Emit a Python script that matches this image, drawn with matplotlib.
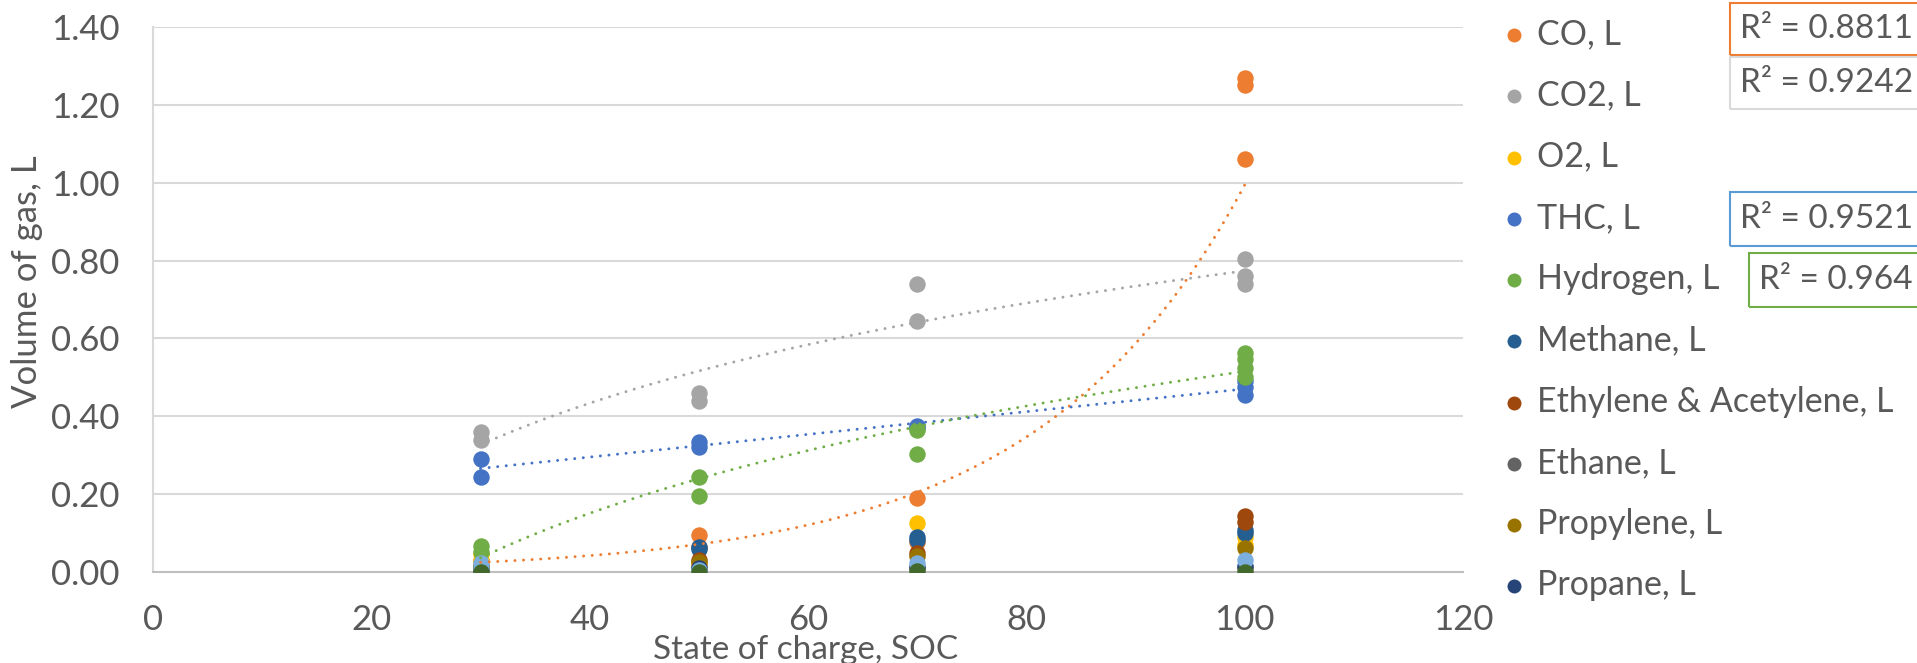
import matplotlib; matplotlib.use('Agg')
import matplotlib.pyplot as plt
from matplotlib.patches import Rectangle
import numpy as np

plt.rcParams['font.family'] = ['Lato', 'DejaVu Sans']
TXT = '#595959'

# gas volumes per state of charge (SOC %)
co_x = [30, 30, 50, 50, 70, 70, 100, 100, 100]
co_y = [0.029, 0.029, 0.095, 0.065, 0.19, 0.078, 1.27, 1.25, 1.06]
co2_x = [30, 30, 50, 50, 70, 70, 100, 100, 100]
co2_y = [0.36, 0.34, 0.46, 0.44, 0.74, 0.645, 0.805, 0.76, 0.74]
o2_x = [30, 30, 50, 70, 100, 100]
o2_y = [0.045, 0.03, 0.02, 0.125, 0.09, 0.07]
thc_x = [30, 30, 50, 50, 70, 70, 100, 100, 100]
thc_y = [0.29, 0.245, 0.335, 0.322, 0.375, 0.37, 0.49, 0.475, 0.455]
h2_x = [30, 30, 50, 50, 70, 70, 100, 100, 100, 100]
h2_y = [0.068, 0.052, 0.243, 0.195, 0.365, 0.302, 0.562, 0.548, 0.525, 0.50]
ch4_x = [30, 50, 50, 70, 70, 100, 100]
ch4_y = [0.015, 0.065, 0.058, 0.09, 0.082, 0.108, 0.10]
c2h4_x = [30, 50, 70, 100, 100]
c2h4_y = [0.01, 0.032, 0.048, 0.145, 0.128]
c2h6_x = [30, 50, 70, 100]
c2h6_y = [0.005, 0.012, 0.01, 0.01]
c3h6_x = [30, 50, 70, 100]
c3h6_y = [0.012, 0.025, 0.04, 0.062]
c3h8_x = [30, 50, 70, 100]
c3h8_y = [0.008, 0.01, 0.012, 0.015]
s11_x = [30, 30, 50, 70, 100]
s11_y = [0.022, 0.01, 0.005, 0.022, 0.032]
s12_x = [30, 50, 70, 100]
s12_y = [0.0, 0.0, 0.002, 0.0]

series = [
    ('CO, L', co_x, co_y, '#ED7D31'),
    ('CO2, L', co2_x, co2_y, '#A5A5A5'),
    ('O2, L', o2_x, o2_y, '#FFC000'),
    ('THC, L', thc_x, thc_y, '#4472C4'),
    ('Hydrogen, L', h2_x, h2_y, '#70AD47'),
    ('Methane, L', ch4_x, ch4_y, '#255E91'),
    ('Ethylene & Acetylene, L', c2h4_x, c2h4_y, '#9E480E'),
    ('Ethane, L', c2h6_x, c2h6_y, '#636363'),
    ('Propylene, L', c3h6_x, c3h6_y, '#997300'),
    ('Propane, L', c3h8_x, c3h8_y, '#264478'),
    ('_s11', s11_x, s11_y, '#7CAFDD'),
    ('_s12', s12_x, s12_y, '#43682B'),
]
r2_labels = ['R² = 0.8811', 'R² = 0.9242', 'R² = 0.9521', 'R² = 0.964']

W, H = 1917, 663
fig = plt.figure(figsize=(W/100, H/100), dpi=100)
ax = fig.add_axes([153/W, 1-572/H, (1463-153)/W, (572-27)/H])

for lab, x, y, c in series:
    ax.scatter(x, y, s=140, color=c, label=lab, zorder=3, linewidths=0)

# trendlines: exponential (CO), logarithmic (CO2, H2), linear (THC)
xs = np.linspace(30, 100, 200)
b, la = np.polyfit(co_x, np.log(co_y), 1)
fits = [(np.exp(la)*np.exp(b*xs), '#ED7D31')]
k, c0 = np.polyfit(np.log(co2_x), co2_y, 1); fits.append((k*np.log(xs)+c0, '#A5A5A5'))
k, c0 = np.polyfit(thc_x, thc_y, 1); fits.append((k*xs+c0, '#4472C4'))
k, c0 = np.polyfit(np.log(h2_x), h2_y, 1); fits.append((k*np.log(xs)+c0, '#70AD47'))
for yy, c in fits:
    ax.plot(xs, yy, color=c, lw=2.1, ls=(0, (0.05, 2.9)), dash_capstyle='round', zorder=4)

ax.set_xlim(0, 120); ax.set_ylim(0, 1.4)
ax.set_xticks(np.arange(0, 121, 20))
ax.set_yticks(np.arange(0, 1.41, 0.2))
ax.set_yticklabels([f'{v:.2f}' for v in np.arange(0, 1.41, 0.2)])
ax.tick_params(length=0, labelsize=25, colors=TXT)
ax.tick_params(axis='y', pad=24)
ax.tick_params(axis='x', pad=23)
ax.grid(axis='y', color='#D9D9D9', lw=1.5)
ax.set_axisbelow(True)
for s in ['top', 'right']:
    ax.spines[s].set_visible(False)
ax.spines['left'].set_color('#D9D9D9'); ax.spines['left'].set_linewidth(1.5)
ax.spines['bottom'].set_color('#BFBFBF'); ax.spines['bottom'].set_linewidth(1.5)

fig.text(27/W, 1-282/H, 'Volume of gas, L', rotation=90, ha='center', va='center', fontsize=25, color=TXT)
fig.text(806/W, 1-650/H, 'State of charge, SOC', ha='center', va='center', fontsize=24, color=TXT)

h, l = ax.get_legend_handles_labels()
fig.legend(h[:10], l[:10], loc='upper left', bbox_to_anchor=(1500/W, 1-18/H), frameon=False,
           fontsize=24.5, labelcolor=TXT, handlelength=0.8, handletextpad=0.3,
           labelspacing=0.86, markerscale=0.85, borderaxespad=0, borderpad=0)

# R² boxes at the right edge
boxes = [(1730, 3, 55, '#ED7D31'), (1730, 57, 109, '#D9D9D9'),
         (1730, 192, 246, '#5B9BD5'), (1749, 253, 307, '#70AD47')]
for (x0, y0, y1, ec), t in zip(boxes, r2_labels):
    fig.patches.append(Rectangle((x0/W, 1-y1/H), (W+20-x0)/W, (y1-y0)/H, transform=fig.transFigure,
                                 fill=False, ec=ec, lw=1.5, clip_on=False))
    fig.text((x0+10)/W, 1-(y0+y1)/2/H, t, ha='left', va='center', fontsize=24, color=TXT)

fig.savefig('out.png', dpi=100)
